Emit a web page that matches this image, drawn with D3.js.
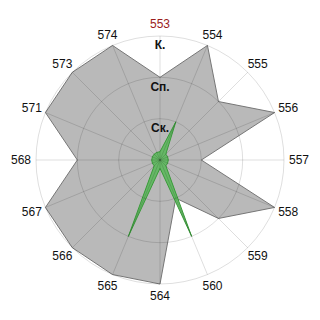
<!DOCTYPE html>
<html>
<head>
<meta charset="utf-8">
<script src="https://cdn.jsdelivr.net/npm/d3@7"></script>
<style>
  body { margin: 0; background: #fff; }
  text { font-family: "Liberation Sans", Arial, sans-serif; }
</style>
</head>
<body>
<div id="radar"></div>
<script>
// categories clockwise starting at the top
const categories = ["553", "554", "555", "556", "557", "558", "559", "560",
  "564", "565", "566", "567", "568", "571", "573", "574"];
const levelLabels = ["Ск.", "Сп.", "К."];
const levels = [1, 2, 3];
const grayValues = [2, 3, 2, 3, 1, 3, 2, 1, 3, 3, 3, 3, 2, 3, 3, 3];
const greenValues = [0.2, 1, 0.2, 0.2, 0.2, 0.2, 0.2, 2, 0.2, 2, 0.2, 0.2, 0.2, 0.2, 0.2, 0.2];

const width = 320, height = 320;
const cx = 160, cy = 160, outerR = 124;

const svg = d3.select("#radar")
  .append("svg")
  .attr("width", width)
  .attr("height", height)
  .append("g")
  .attr("transform", "translate(" + cx + "," + cy + ")");

const r = d3.scaleLinear().domain([0, 3]).range([0, outerR]);
const angle = d3.scaleLinear().domain([0, categories.length]).range([0, 2 * Math.PI]);

const radial = d3.lineRadial()
  .angle((d, i) => angle(i))
  .radius(d => r(d))
  .curve(d3.curveLinearClosed);

// gray series
svg.append("path")
  .datum(grayValues)
  .attr("d", radial)
  .attr("fill", "#b9b9b9")
  .attr("stroke", "#777")
  .attr("stroke-width", 1);

// green series
svg.append("path")
  .datum(greenValues)
  .attr("d", radial)
  .attr("fill", "#5cb85c")
  .attr("fill-opacity", 0.9)
  .attr("stroke", "#3a9a3a")
  .attr("stroke-width", 1);

// grid on top, semi transparent so it darkens over the fill
const gridColor = "rgba(0,0,0,0.13)";
svg.append("g")
  .selectAll("circle")
  .data(levels)
  .enter()
  .append("circle")
  .attr("r", d => r(d))
  .attr("fill", "none")
  .attr("stroke", gridColor);

svg.append("g")
  .selectAll("line")
  .data(categories)
  .enter()
  .append("line")
  .attr("x1", 0).attr("y1", 0)
  .attr("x2", (d, i) => r(3) * Math.sin(angle(i)))
  .attr("y2", (d, i) => -r(3) * Math.cos(angle(i)))
  .attr("stroke", gridColor);

// level labels along the top axis
svg.append("g")
  .selectAll("text")
  .data(levels)
  .enter()
  .append("text")
  .attr("x", 0)
  .attr("y", d => -r(d) + 9)
  .attr("dy", "0.35em")
  .attr("text-anchor", "middle")
  .attr("font-size", 12)
  .attr("font-weight", "bold")
  .attr("fill", "#111")
  .text((d, i) => levelLabels[i]);

// category labels
svg.append("g")
  .selectAll("text")
  .data(categories)
  .enter()
  .append("text")
  .attr("x", (d, i) => {
    const s = Math.sin(angle(i));
    return (136 + 3 * Math.abs(s)) * s;
  })
  .attr("y", (d, i) => -136 * Math.cos(angle(i)))
  .attr("dy", "0.35em")
  .attr("text-anchor", "middle")
  .attr("font-size", 12)
  .attr("fill", (d, i) => i === 0 ? "#9b1c1c" : "#111")
  .text(d => d);
</script>
</body>
</html>
